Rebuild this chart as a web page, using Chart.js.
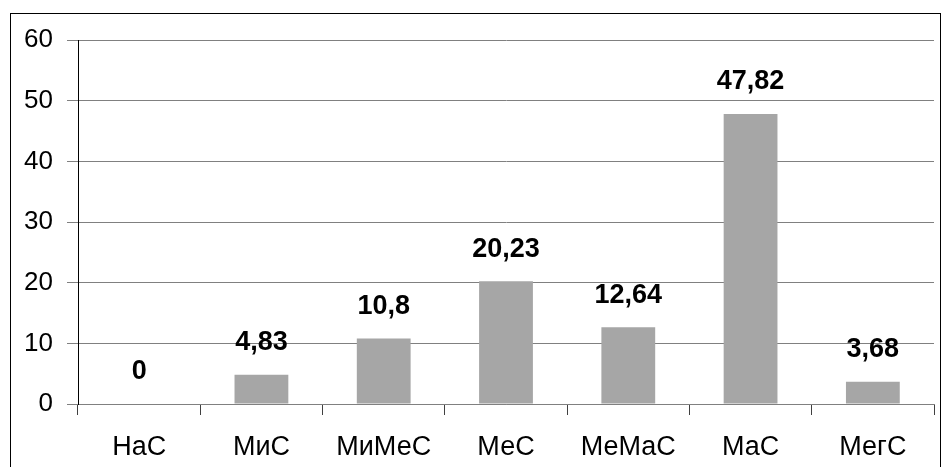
<!DOCTYPE html>
<html><head><meta charset="utf-8">
<script src="https://cdn.jsdelivr.net/npm/chart.js@4"></script>
<style>
html,body{margin:0;padding:0;background:#fff;}
#wrap{position:relative;width:943px;height:467px;overflow:hidden;}
#frame{position:absolute;left:10px;top:13px;width:931px;height:500px;border:1px solid #000;box-sizing:border-box;}
canvas{position:absolute;left:0;top:0;}
</style></head>
<body>
<div id="wrap"><div id="frame"></div><canvas id="c" width="943" height="467"></canvas></div>
<script>
const categories = ["НаС","МиС","МиМеС","МеС","МеМаС","МаС","МегС"];
const values = [0, 4.83, 10.8, 20.23, 12.64, 47.82, 3.68];
const valueLabels = ["0","4,83","10,8","20,23","12,64","47,82","3,68"];
const yTicks = [0,10,20,30,40,50,60];

const FONT = '"Liberation Sans", Arial, sans-serif';
const labelPlugin = {
  id:'vlabels',
  afterDatasetsDraw(chart){
    const ctx = chart.ctx;
    const meta = chart.getDatasetMeta(0);
    ctx.save();
    ctx.font = 'bold 27px ' + FONT;
    ctx.fillStyle = '#000';
    ctx.textAlign = 'center';
    ctx.textBaseline = 'middle';
    meta.data.forEach((bar,i)=>{
      ctx.fillText(valueLabels[i], bar.x, bar.y - 32);
    });
    ctx.restore();
  }
};

new Chart(document.getElementById('c'), {
  type:'bar',
  data:{labels:categories, datasets:[{data:values, backgroundColor:'#A6A6A6', borderWidth:0, barPercentage:0.44, categoryPercentage:1}]},
  options:{
    responsive:false, animation:false,
    layout:{padding:{top:40,right:9,left:0,bottom:0}},
    plugins:{legend:{display:false}, tooltip:{enabled:false}},
    scales:{
      x:{
        grid:{drawOnChartArea:false, tickLength:11, color:'#404040', offset:true},
        border:{color:'#808080', width:1},
        ticks:{font:{size:27, family:FONT}, color:'#000', padding:16, maxRotation:0},
        afterFit(s){ s.height = 63; }
      },
      y:{
        min:0, max:60,
        afterBuildTicks(s){ s.ticks = yTicks.map(v=>({value:v})); },
        grid:{color:'#808080', tickLength:11},
        border:{color:'#000', width:1},
        ticks:{font:{size:26, family:FONT}, color:'#000', padding:14},
        afterFit(s){ s.width = 78; }
      }
    }
  },
  plugins:[labelPlugin]
});
</script>
</body></html>
